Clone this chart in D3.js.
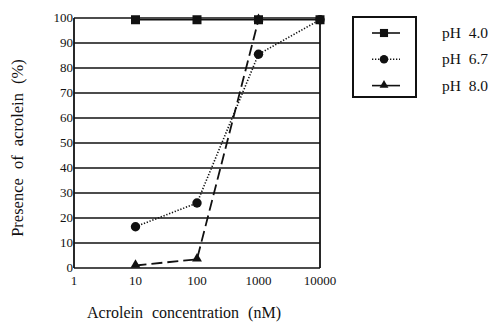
<!DOCTYPE html>
<meta charset="utf-8">
<title>Acrolein</title>
<style>
body { margin: 0; background: #fff; }
text { font-family: "Liberation Serif", "DejaVu Serif", serif; fill: #111; }
</style>
<body>
<svg width="492" height="328" id="svg"></svg>
<script src="https://d3js.org/d3.v7.min.js"></script>
<script>

var concs = [10, 100, 1000, 10000];
var ph40 = [99.3, 99.3, 99.3, 99.3];
var ph67 = [16.5, 26, 85.5, 99.3];
var ph80 = [1, 3.5, 99.3];
var yTicks = [0, 10, 20, 30, 40, 50, 60, 70, 80, 90, 100];
var xTicks = [1, 10, 100, 1000, 10000];
var seriesNames = ["pH  4.0", "pH  6.7", "pH  8.0"];

var svg = d3.select("svg");
var plotLeft = 74, plotRight = 320, plotTop = 18, plotBottom = 268;

var x = d3.scaleLog().domain([1, 10000]).range([plotLeft, plotRight]);
var y = d3.scaleLinear().domain([0, 100]).range([plotBottom, plotTop]);

// grid lines
svg.append("g").selectAll("line")
  .data(yTicks)
  .enter().append("line")
    .attr("x1", plotLeft).attr("x2", plotRight)
    .attr("y1", function(d) { return y(d); })
    .attr("y2", function(d) { return y(d); })
    .attr("stroke", "#111").attr("stroke-width", 1.7);

// frame sides
svg.append("line").attr("x1", plotLeft).attr("x2", plotLeft).attr("y1", plotTop).attr("y2", plotBottom)
  .attr("stroke", "#111").attr("stroke-width", 1.8);
svg.append("line").attr("x1", plotRight).attr("x2", plotRight).attr("y1", plotTop).attr("y2", plotBottom)
  .attr("stroke", "#111").attr("stroke-width", 1.8);

// y tick labels
svg.append("g").selectAll("text")
  .data(yTicks)
  .enter().append("text")
    .attr("x", plotLeft - 1)
    .attr("y", function(d) { return y(d) + 4; })
    .attr("text-anchor", "end")
    .style("font-size", "13px")
    .text(function(d) { return d; });

// x tick labels
svg.append("g").selectAll("text")
  .data(xTicks)
  .enter().append("text")
    .attr("x", function(d) { return x(d); })
    .attr("y", 285)
    .attr("text-anchor", "middle")
    .style("font-size", "13px")
    .text(function(d) { return d; });

// axis titles
svg.append("text")
  .attr("transform", "translate(23,148) rotate(-90)")
  .attr("text-anchor", "middle")
  .style("font-size", "16.5px")
  .style("word-spacing", "5px")
  .text("Presence of acrolein (%)");

svg.append("text")
  .attr("x", 184).attr("y", 318)
  .attr("text-anchor", "middle")
  .style("font-size", "16px")
  .style("word-spacing", "5px")
  .text("Acrolein concentration (nM)");

var line = d3.line()
  .x(function(d) { return x(d[0]); })
  .y(function(d) { return y(d[1]); });

var s40 = d3.zip(concs, ph40);
var s67 = d3.zip(concs, ph67);
var s80 = d3.zip(concs.slice(0, 3), ph80);

svg.append("path").datum(s40).attr("d", line)
  .attr("fill", "none").attr("stroke", "#111").attr("stroke-width", 1.6);
svg.append("path").datum(s67).attr("d", line)
  .attr("fill", "none").attr("stroke", "#111").attr("stroke-width", 1.6)
  .attr("stroke-dasharray", "1.3,1.7");
svg.append("path").datum(s80).attr("d", line)
  .attr("fill", "none").attr("stroke", "#111").attr("stroke-width", 1.8)
  .attr("stroke-dasharray", "11,5");

function drawSymbol(g, kind, cx, cy, s) {
  if (kind == 0) {
    g.append("rect").attr("x", cx - 4.5 * s).attr("y", cy - 4.5 * s)
      .attr("width", 9 * s).attr("height", 9 * s)
      .attr("fill", "#111");
  } else if (kind == 1) {
    g.append("circle").attr("cx", cx).attr("cy", cy).attr("r", 4.7 * s).attr("fill", "#111");
  } else {
    g.append("path").attr("d", d3.symbol().type(d3.symbolTriangle).size(42 * s * s)())
      .attr("transform", "translate(" + cx + "," + (cy - 0.5) + ")")
      .attr("fill", "#111");
  }
}

var marks = svg.append("g");
s40.forEach(function(d) { drawSymbol(marks, 0, x(d[0]), y(d[1]), 1); });
s67.forEach(function(d) { drawSymbol(marks, 1, x(d[0]), y(d[1]), 1); });
s80.forEach(function(d) { drawSymbol(marks, 2, x(d[0]), y(d[1]), 1); });

// legend
var leg = svg.append("g");
leg.append("rect").attr("x", 353).attr("y", 17).attr("width", 63).attr("height", 80)
  .attr("fill", "none").attr("stroke", "#111").attr("stroke-width", 2);
var dashes = [null, "1.3,1.7", null];
seriesNames.forEach(function(name, i) {
  var ly = 33 + i * 26.3;
  var l = leg.append("line").attr("x1", 372).attr("x2", 400).attr("y1", ly).attr("y2", ly)
    .attr("stroke", "#111").attr("stroke-width", 1.6);
  if (dashes[i]) l.attr("stroke-dasharray", dashes[i]);
  drawSymbol(leg, i, 384, ly, 0.9);
  leg.append("text").attr("x", 442).attr("y", ly + 5)
    .style("font-size", "15.5px").style("white-space", "pre")
    .text(name);
});

</script>
</body>
